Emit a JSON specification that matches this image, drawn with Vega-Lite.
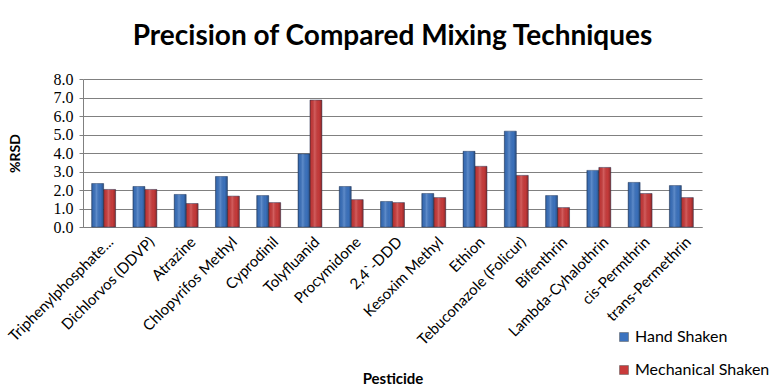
{
  "$schema": "https://vega.github.io/schema/vega-lite/v6.json",
  "width": 619,
  "height": 148,
  "autosize": {"type": "none"},
  "padding": {"left": 83, "top": 79, "right": 80, "bottom": 164},
  "background": "white",
  "title": {
    "text": "Precision of Compared Mixing Techniques",
    "font": "Lato",
    "fontSize": 28,
    "fontWeight": "bold",
    "color": "#000000",
    "anchor": "middle",
    "offset": 20
  },
  "data": {
    "values": [
      {"pesticide": "Triphenylphosphate...", "method": "Hand Shaken", "rsd": 2.35},
      {"pesticide": "Triphenylphosphate...", "method": "Mechanical Shaken", "rsd": 2.03},
      {"pesticide": "Dichlorvos (DDVP)", "method": "Hand Shaken", "rsd": 2.19},
      {"pesticide": "Dichlorvos (DDVP)", "method": "Mechanical Shaken", "rsd": 2.03},
      {"pesticide": "Atrazine", "method": "Hand Shaken", "rsd": 1.76},
      {"pesticide": "Atrazine", "method": "Mechanical Shaken", "rsd": 1.27},
      {"pesticide": "Chlopyrifos Methyl", "method": "Hand Shaken", "rsd": 2.73},
      {"pesticide": "Chlopyrifos Methyl", "method": "Mechanical Shaken", "rsd": 1.67},
      {"pesticide": "Cyprodinil", "method": "Hand Shaken", "rsd": 1.70},
      {"pesticide": "Cyprodinil", "method": "Mechanical Shaken", "rsd": 1.32},
      {"pesticide": "Tolyfluanid", "method": "Hand Shaken", "rsd": 3.95},
      {"pesticide": "Tolyfluanid", "method": "Mechanical Shaken", "rsd": 6.86},
      {"pesticide": "Procymidone", "method": "Hand Shaken", "rsd": 2.19},
      {"pesticide": "Procymidone", "method": "Mechanical Shaken", "rsd": 1.48},
      {"pesticide": "2,4`-DDD", "method": "Hand Shaken", "rsd": 1.38},
      {"pesticide": "2,4`-DDD", "method": "Mechanical Shaken", "rsd": 1.32},
      {"pesticide": "Kesoxim Methyl", "method": "Hand Shaken", "rsd": 1.81},
      {"pesticide": "Kesoxim Methyl", "method": "Mechanical Shaken", "rsd": 1.59},
      {"pesticide": "Ethion", "method": "Hand Shaken", "rsd": 4.09},
      {"pesticide": "Ethion", "method": "Mechanical Shaken", "rsd": 3.28},
      {"pesticide": "Tebuconazole (Folicur)", "method": "Hand Shaken", "rsd": 5.18},
      {"pesticide": "Tebuconazole (Folicur)", "method": "Mechanical Shaken", "rsd": 2.79},
      {"pesticide": "Bifenthrin", "method": "Hand Shaken", "rsd": 1.70},
      {"pesticide": "Bifenthrin", "method": "Mechanical Shaken", "rsd": 1.05},
      {"pesticide": "Lambda-Cyhalothrin", "method": "Hand Shaken", "rsd": 3.06},
      {"pesticide": "Lambda-Cyhalothrin", "method": "Mechanical Shaken", "rsd": 3.22},
      {"pesticide": "cis-Permthrin", "method": "Hand Shaken", "rsd": 2.41},
      {"pesticide": "cis-Permthrin", "method": "Mechanical Shaken", "rsd": 1.81},
      {"pesticide": "trans-Permethrin", "method": "Hand Shaken", "rsd": 2.24},
      {"pesticide": "trans-Permethrin", "method": "Mechanical Shaken", "rsd": 1.59}
    ]
  },
  "encoding": {
    "x": {
      "field": "pesticide",
      "type": "nominal",
      "sort": null,
      "scale": {"paddingInner": 0.42, "paddingOuter": 0.21},
      "axis": {
        "title": "Pesticide",
        "titleFont": "Lato",
        "titleFontSize": 15,
        "titleFontWeight": "bold",
        "titleColor": "#000000",
        "titleY": 151,
        "titleBaseline": "middle",
        "labelAngle": -45,
        "labelAlign": "right",
        "labelBaseline": "middle",
        "labelFont": "Lato",
        "labelFontSize": 15,
        "labelColor": "#000000",
        "labelPadding": 12,
        "labelOffset": 7,
        "labelLimit": 300,
        "domainColor": "#808080",
        "ticks": false,
        "grid": false
      }
    },
    "xOffset": {"field": "method", "type": "nominal"},
    "y": {
      "field": "rsd",
      "type": "quantitative",
      "scale": {"domain": [0, 8]},
      "axis": {
        "title": "%RSD",
        "titleFont": "Lato",
        "titleFontSize": 14,
        "titleFontWeight": "bold",
        "titleColor": "#000000",
        "titleX": -68,
        "titleY": 74,
        "titleAlign": "center",
        "titleBaseline": "middle",
        "values": [0, 1, 2, 3, 4, 5, 6, 7, 8],
        "format": ".1f",
        "labelFont": "Liberation Serif",
        "labelFontSize": 16,
        "labelFontWeight": "normal",
        "labelColor": "#000000",
        "labelPadding": 6,
        "domainColor": "#808080",
        "tickColor": "#808080",
        "tickSize": 4,
        "gridColor": "#808080",
        "gridWidth": 1
      }
    }
  },
  "layer": [
    {
      "mark": {"type": "bar", "stroke": "#2a3f60", "strokeWidth": 0.5},
      "encoding": {
        "color": {
          "field": "method",
          "type": "nominal",
          "scale": {"domain": ["Hand Shaken", "Mechanical Shaken"], "range": ["#3c73bf", "#c93b3b"]},
          "legend": {
            "title": null,
            "orient": "none",
            "legendX": 533,
            "legendY": 250,
            "symbolType": "square",
            "symbolSize": 80,
            "symbolStrokeColor": "#555",
            "symbolStrokeWidth": 0.5,
            "labelFont": "Lato",
            "labelFontSize": 16,
            "labelColor": "#000000",
            "rowPadding": 17,
            "labelOffset": 3
          }
        }
      }
    },
    {
      "mark": {
        "type": "bar",
        "fill": {
          "gradient": "linear",
          "x1": 0, "y1": 0, "x2": 1, "y2": 0,
          "stops": [
            {"offset": 0, "color": "rgba(0,0,0,0.28)"},
            {"offset": 0.12, "color": "rgba(0,0,0,0.05)"},
            {"offset": 0.4, "color": "rgba(255,255,255,0.18)"},
            {"offset": 0.75, "color": "rgba(0,0,0,0.02)"},
            {"offset": 1, "color": "rgba(0,0,0,0.3)"}
          ]
        },
        "stroke": null
      },
      "encoding": {}
    }
  ],
  "config": {"view": {"stroke": null}}
}
